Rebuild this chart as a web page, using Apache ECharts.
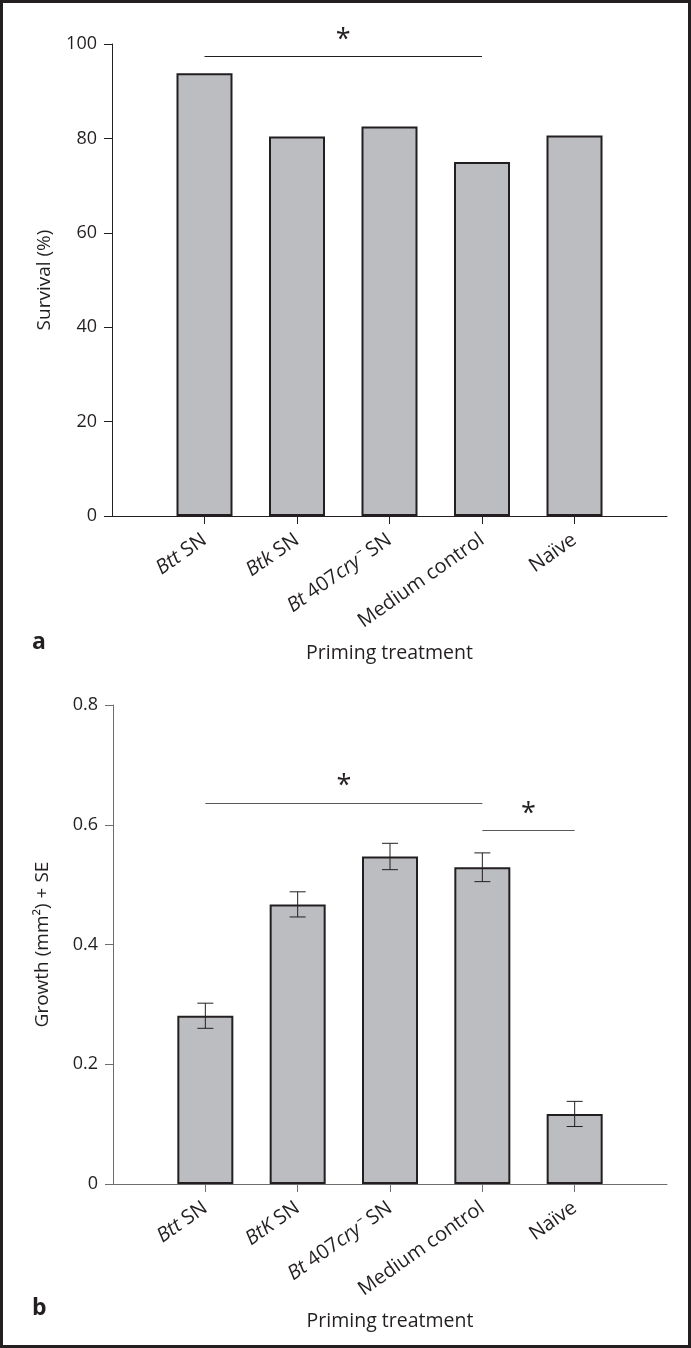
<!DOCTYPE html>
<html>
<head>
<meta charset="utf-8">
<script src="https://cdn.jsdelivr.net/npm/echarts@6/dist/echarts.min.js"></script>
<style>
  html, body { margin: 0; padding: 0; background: #fff; }
  #chart { width: 691px; height: 1348px; }
</style>
</head>
<body>
<div id="chart"></div>
<script>
// --- data ---
var treatmentsA = ['Btt SN', 'Btk SN', 'Bt 407cry⁻ SN', 'Medium control', 'Naïve'];
var treatmentsB = ['Btt SN', 'BtK SN', 'Bt 407cry⁻ SN', 'Medium control', 'Naïve'];
var survival = [93.8, 80.4, 82.5, 75.0, 80.6];      // panel a, %
var growth = [0.281, 0.467, 0.547, 0.529, 0.117];   // panel b, mm2
var growthSE = [0.021, 0.021, 0.022, 0.024, 0.021];
// significance brackets: [from index, to index, height]
var sigA = [[0, 3, 97.3]];
var sigB = [[0, 3, 0.636], [3, 4, 0.590]];

var ink = '#231f20';
var font = '"Open Sans", "Noto Sans", sans-serif';

// italic parts of the category names
var richNames = {
  'Btt SN': '{i|Btt} SN',
  'Btk SN': '{i|Btk} SN',
  'BtK SN': '{i|BtK} SN',
  'Bt 407cry⁻ SN': '{i|Bt} 407{i|cry⁻} SN'
};

// one empty slot at each end so the axis line runs past the outer bars
function pad(arr) { return [''].concat(arr).concat(['']); }
function padVals(arr) { return ['-'].concat(arr).concat(['-']); }

function xAxisFor(cats, gridIndex, axisColor) {
  return {
    type: 'category',
    gridIndex: gridIndex,
    data: pad(cats),
    boundaryGap: false,
    axisLine: { lineStyle: { color: axisColor, width: 1 } },
    axisTick: {
      length: 8,
      lineStyle: { color: axisColor },
      interval: function (idx) { return idx > 0 && idx <= cats.length; }
    },
    axisLabel: {
      interval: 0,
      rotate: 35,
      margin: 22,
      color: ink,
      fontFamily: font,
      fontSize: 20,
      formatter: function (v) { return richNames[v] || v; },
      rich: {
        i: { fontStyle: 'italic', fontFamily: font, fontSize: 20, color: ink }
      }
    },
    name: 'Priming treatment',
    nameLocation: 'middle',
    nameGap: 127,
    nameTextStyle: { color: ink, fontFamily: font, fontSize: 19.5 },
    splitLine: { show: false }
  };
}

function yAxisFor(gridIndex, max, step, name, axisColor, gap) {
  return {
    type: 'value',
    gridIndex: gridIndex,
    min: 0,
    max: max,
    interval: step,
    axisLine: { show: true, lineStyle: { color: axisColor, width: 1 } },
    axisTick: { show: true, length: 8, lineStyle: { color: axisColor } },
    axisLabel: { margin: 15, color: ink, fontFamily: font, fontSize: 18 },
    splitLine: { show: false },
    name: name,
    nameLocation: 'middle',
    nameRotate: 90,
    nameGap: gap,
    nameTextStyle: { color: ink, fontFamily: font, fontSize: 19 }
  };
}

function sigLines(list, color) {
  return {
    silent: true,
    animation: false,
    symbol: ['none', 'none'],
    lineStyle: { type: 'solid', color: color, width: 1 },
    label: {
      show: true,
      position: 'middle',
      formatter: '*',
      distance: 3,
      color: ink,
      fontFamily: font,
      fontSize: 27
    },
    emphasis: { disabled: true },
    data: list.map(function (s) {
      return [{ coord: [s[0] + 1, s[2]] }, { coord: [s[1] + 1, s[2]] }];
    })
  };
}

var barStyle = { color: '#bcbdc0', borderColor: ink, borderWidth: 2 };

var chart = echarts.init(document.getElementById('chart'), null, { renderer: 'canvas' });

var option = {
  animation: false,
  backgroundColor: '#fff',
  grid: [
    { left: 112, right: 24, top: 44, bottom: 1348 - 516 },
    { left: 113, right: 24, top: 705, bottom: 1348 - 1184 }
  ],
  xAxis: [
    xAxisFor(treatmentsA, 0, ink),
    xAxisFor(treatmentsB, 1, '#6d6e71')
  ],
  yAxis: [
    yAxisFor(0, 100, 20, 'Survival (%)', ink, 58),
    yAxisFor(1, 0.8, 0.2, 'Growth (mm²) + SE', '#6d6e71', 61)
  ],
  series: [
    {
      type: 'bar',
      xAxisIndex: 0,
      yAxisIndex: 0,
      barWidth: 56,
      itemStyle: barStyle,
      data: padVals(survival),
      markLine: sigLines(sigA, ink)
    },
    {
      type: 'bar',
      xAxisIndex: 1,
      yAxisIndex: 1,
      barWidth: 56,
      itemStyle: barStyle,
      data: padVals(growth),
      markLine: sigLines(sigB, '#58595b')
    },
    {
      type: 'custom',
      xAxisIndex: 1,
      yAxisIndex: 1,
      z: 5,
      encode: { x: 0, y: [1, 2] },
      data: growth.map(function (m, i) { return [i + 1, m - growthSE[i], m + growthSE[i]]; }),
      renderItem: function (params, api) {
        var x = api.value(0);
        var lo = api.coord([x, api.value(1)]);
        var hi = api.coord([x, api.value(2)]);
        var w = 8;
        var st = { stroke: ink, lineWidth: 1 };
        return {
          type: 'group',
          children: [
            { type: 'line', shape: { x1: lo[0], y1: lo[1], x2: hi[0], y2: hi[1] }, style: st },
            { type: 'line', shape: { x1: hi[0] - w, y1: hi[1], x2: hi[0] + w, y2: hi[1] }, style: st },
            { type: 'line', shape: { x1: lo[0] - w, y1: lo[1], x2: lo[0] + w, y2: lo[1] }, style: st }
          ]
        };
      }
    }
  ],
  graphic: [
    {
      type: 'rect',
      shape: { x: 1.5, y: 1.5, width: 688, height: 1345 },
      style: { fill: null, stroke: ink, lineWidth: 3 },
      silent: true
    },
    {
      type: 'text', left: 32, top: 631,
      style: { text: 'a', font: 'bold 23px ' + font, fill: ink }
    },
    {
      type: 'text', left: 32, top: 1297,
      style: { text: 'b', font: 'bold 23px ' + font, fill: ink }
    }
  ]
};

chart.setOption(option);
</script>
</body>
</html>
